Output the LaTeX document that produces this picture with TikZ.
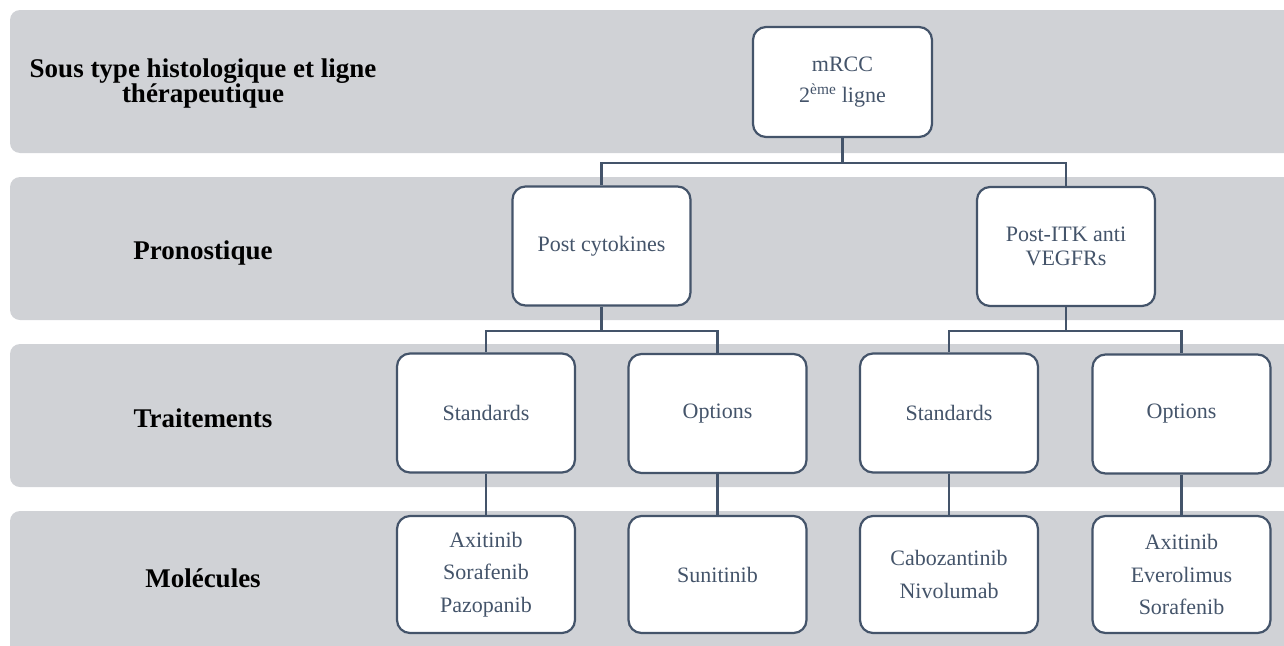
\documentclass[tikz,border=0pt]{standalone}
\usepackage{fontspec}
\setmainfont{Liberation Serif}
\definecolor{bandgray}{HTML}{D0D2D6}
\definecolor{slate}{HTML}{44546A}
\begin{document}
\begin{tikzpicture}[x=1pt,y=-1pt,
  band/.style={fill=bandgray, rounded corners=10pt},
  lab/.style={font=\fontsize{27}{25}\selectfont\bfseries, align=center, text=black, inner sep=0pt},
  box/.style={draw=slate, line width=2.2pt, fill=white, rounded corners=13pt,
    minimum width=178pt, minimum height=119pt, align=center, text=slate,
    font=\fontsize{22}{24}\selectfont, inner sep=0pt},
  molbox/.style={box, minimum height=117pt, font=\fontsize{22}{32.5}\selectfont},
  conn/.style={draw=slate, line width=2.2pt}]
\clip (0,0) rectangle (1284,645);
\path[use as bounding box] (0,0) rectangle (1284,645);
% bands
\fill[band] (10,10) rectangle (1310,153);
\fill[band] (10,177) rectangle (1310,320);
\fill[band] (10,344) rectangle (1310,487);
\fill[band] (10,511) rectangle (1310,680);
% row labels
\node[lab] (l1) at (203,84) {Sous type histologique et ligne\\thérapeutique};
\node[lab] (l2) at (203,253) {Pronostique};
\node[lab] (l3) at (203,418) {Traitements};
\node[lab] (l4) at (203,578) {Molécules};
% boxes
\node[box, minimum height=110pt, minimum width=179pt, font=\fontsize{22}{31}\selectfont] (mrcc) at (842.5,82) {mRCC\\2\textsuperscript{ème} ligne};
\node[box] (pc) at (601.5,246) {Post cytokines};
\node[box] (pitk) at (1066,246.5) {Post-ITK anti\\VEGFRs};
\node[box] (sL) at (486,413) {Standards};
\node[box] (oL) at (717.5,413.5) {Options};
\node[box] (sR) at (949,413) {Standards};
\node[box] (oR) at (1181.5,414) {Options};
\node[molbox] (mA) at (486,574.5) {Axitinib\\Sorafenib\\Pazopanib};
\node[molbox] (mB) at (717.5,574.5) {Sunitinib};
\node[molbox] (mC) at (949,574.5) {Cabozantinib\\Nivolumab};
\node[molbox] (mD) at (1181.5,574.5) {Axitinib\\Everolimus\\Sorafenib};
% connectors
\coordinate (j1) at (842.5,163);
\coordinate (j2) at (601.5,331);
\coordinate (j3) at (1066,331);
\draw[conn] (mrcc.south) -- (j1);
\draw[conn] (j1) -| (pc.north);
\draw[conn] (j1) -| (pitk.north);
\draw[conn] (pc.south) -- (j2);
\draw[conn] (j2) -| (sL.north);
\draw[conn] (j2) -| (oL.north);
\draw[conn] (pitk.south) -- (j3);
\draw[conn] (j3) -| (sR.north);
\draw[conn] (j3) -| (oR.north);
\draw[conn] (sL.south) -- (mA.north);
\draw[conn] (oL.south) -- (mB.north);
\draw[conn] (sR.south) -- (mC.north);
\draw[conn] (oR.south) -- (mD.north);
\end{tikzpicture}
\end{document}
